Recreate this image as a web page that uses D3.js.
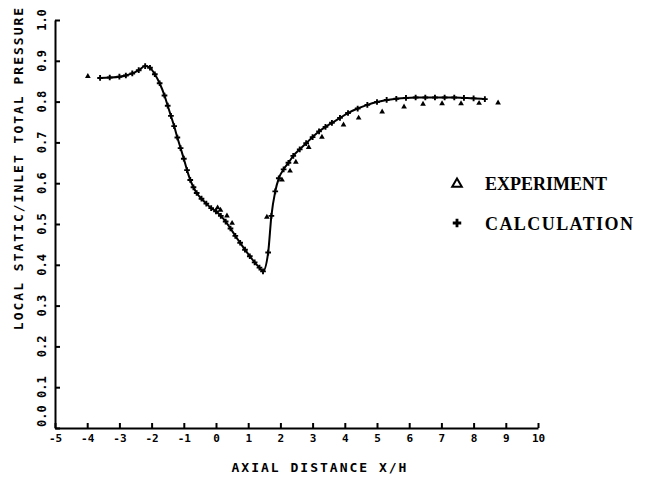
<!DOCTYPE html>
<html><head><meta charset="utf-8">
<script src="https://cdn.jsdelivr.net/npm/d3@7"></script>
<style>body{margin:0;background:#fff}svg{display:block}</style>
</head><body>
<script>
const xTicks = [-5,-4,-3,-2,-1,0,1,2,3,4,5,6,7,8,9,10];
const yTicks = [0,0.1,0.2,0.3,0.4,0.5,0.6,0.7,0.8,0.9,1.0];
const yTickLabels = ["0.0","0.1","0.2","0.3","0.4","0.5","0.6","0.7","0.8","0.9","1.0"];
const calcX = [-3.6,-3.3,-3.0,-2.8,-2.6,-2.4,-2.2,-2.05,-1.9,-1.75,-1.6,-1.5,-1.4,-1.3,-1.2,-1.1,-1.0,-0.9,-0.8,-0.7,-0.6,-0.45,-0.3,-0.15,0.0,0.15,0.3,0.45,0.6,0.75,0.9,1.05,1.2,1.35,1.46,1.62,1.72,1.84,1.95,2.1,2.25,2.4,2.6,2.8,3.0,3.2,3.4,3.6,3.85,4.1,4.4,4.7,5.0,5.3,5.6,5.9,6.2,6.5,6.8,7.1,7.4,7.7,8.0,8.35];
const calcY = [0.858,0.859,0.861,0.864,0.869,0.877,0.887,0.883,0.867,0.845,0.815,0.79,0.765,0.74,0.712,0.686,0.66,0.632,0.608,0.59,0.576,0.562,0.55,0.539,0.531,0.52,0.506,0.489,0.471,0.454,0.437,0.421,0.406,0.393,0.384,0.43,0.52,0.58,0.612,0.634,0.65,0.667,0.683,0.698,0.713,0.727,0.738,0.748,0.76,0.772,0.783,0.792,0.799,0.804,0.807,0.809,0.81,0.81,0.81,0.81,0.81,0.809,0.808,0.806];
const expX = [-3.98,0.05,0.14,0.34,0.5,1.58,2.05,2.3,2.48,2.88,3.29,3.96,4.43,5.16,5.84,6.43,7.02,7.61,8.17,8.76];
const expY = [0.862,0.54,0.534,0.52,0.502,0.517,0.608,0.63,0.652,0.688,0.713,0.743,0.76,0.775,0.787,0.794,0.795,0.795,0.796,0.797];
const legendLabels = ["EXPERIMENT","CALCULATION"];
const xTitle = "AXIAL DISTANCE X/H";
const yTitle = "LOCAL STATIC/INLET TOTAL PRESSURE";

const W=646,H=481;
const svg=d3.select("body").append("svg").attr("width",W).attr("height",H);
const x=d3.scaleLinear().domain([-5,10]).range([55,538]);
const y=d3.scaleLinear().domain([0,1]).range([428,20]);
const mono="'DejaVu Sans Mono', monospace";

const gx=svg.append("g").attr("transform",`translate(0,${y(0)})`)
  .call(d3.axisBottom(x).tickValues(xTicks).tickFormat(d=>String(d)).tickSizeInner(-5).tickSizeOuter(0).tickPadding(6));
gx.select(".domain").attr("stroke","#000").attr("stroke-width",2);
gx.selectAll(".tick line").attr("stroke","#000").attr("stroke-width",2);
gx.selectAll(".tick text").attr("font-family",mono).attr("font-weight","bold").attr("font-size",11).attr("fill","#000");

const gy=svg.append("g").attr("transform",`translate(${x(-5)},0)`)
  .call(d3.axisLeft(y).tickValues(yTicks).tickFormat("").tickSizeInner(-5).tickSizeOuter(0));
gy.select(".domain").attr("stroke","#000").attr("stroke-width",2);
gy.selectAll(".tick line").attr("stroke","#000").attr("stroke-width",2);

svg.append("g").selectAll("text").data(yTicks).join("text")
  .attr("transform",(d,i)=>`translate(${x(-5)-9},${i===0?y(d)-1:y(d)}) rotate(-90)`)
  .attr("text-anchor",(d,i)=>i===0?"start":"middle")
  .attr("font-family",mono).attr("font-weight","bold").attr("font-size",12)
  .text((d,i)=>yTickLabels[i]);

svg.append("text").attr("x",320).attr("y",472).attr("text-anchor","middle")
  .attr("font-family",mono).attr("font-weight","bold").attr("font-size",13)
  .attr("letter-spacing",2).text(xTitle);
svg.append("text").attr("transform",`translate(23,168) rotate(-90)`).attr("text-anchor","middle")
  .attr("font-family",mono).attr("font-weight","bold").attr("font-size",13)
  .attr("letter-spacing",2).text(yTitle);

const calc=calcX.map((v,i)=>[v,calcY[i]]);
const exp=expX.map((v,i)=>[v,expY[i]]);
svg.append("path").datum(calc).attr("fill","none").attr("stroke","#000").attr("stroke-width",2)
  .attr("d",d3.line().x(d=>x(d[0])).y(d=>y(d[1])).curve(d3.curveMonotoneX));
const plus=d3.symbol().type(d3.symbolCross).size(18);
svg.append("g").selectAll("path").data(calc).join("path")
  .attr("transform",d=>`translate(${x(d[0])},${y(d[1])})`).attr("d",plus).attr("fill","#000");
const tri=d3.symbol().type(d3.symbolTriangle).size(14);
svg.append("g").selectAll("path").data(exp).join("path")
  .attr("transform",d=>`translate(${x(d[0])},${y(d[1])})`).attr("d",tri).attr("fill","#000");

const lg=svg.append("g");
lg.append("path").attr("transform","translate(457,184)").attr("d",d3.symbol().type(d3.symbolTriangle).size(40))
  .attr("fill","none").attr("stroke","#000").attr("stroke-width",2);
lg.append("path").attr("transform","translate(457,223)").attr("d",d3.symbol().type(d3.symbolCross).size(40)).attr("fill","#000");
lg.selectAll("text").data(legendLabels).join("text")
  .attr("x",485).attr("y",(d,i)=>190+i*40)
  .attr("font-family","'Liberation Serif', serif").attr("font-size",18).attr("font-weight","bold")
  .each(function(d,i){ if(i===1) d3.select(this).attr("textLength",148).attr("lengthAdjust","spacing"); })
  .text(d=>d);
</script>
</body></html>
